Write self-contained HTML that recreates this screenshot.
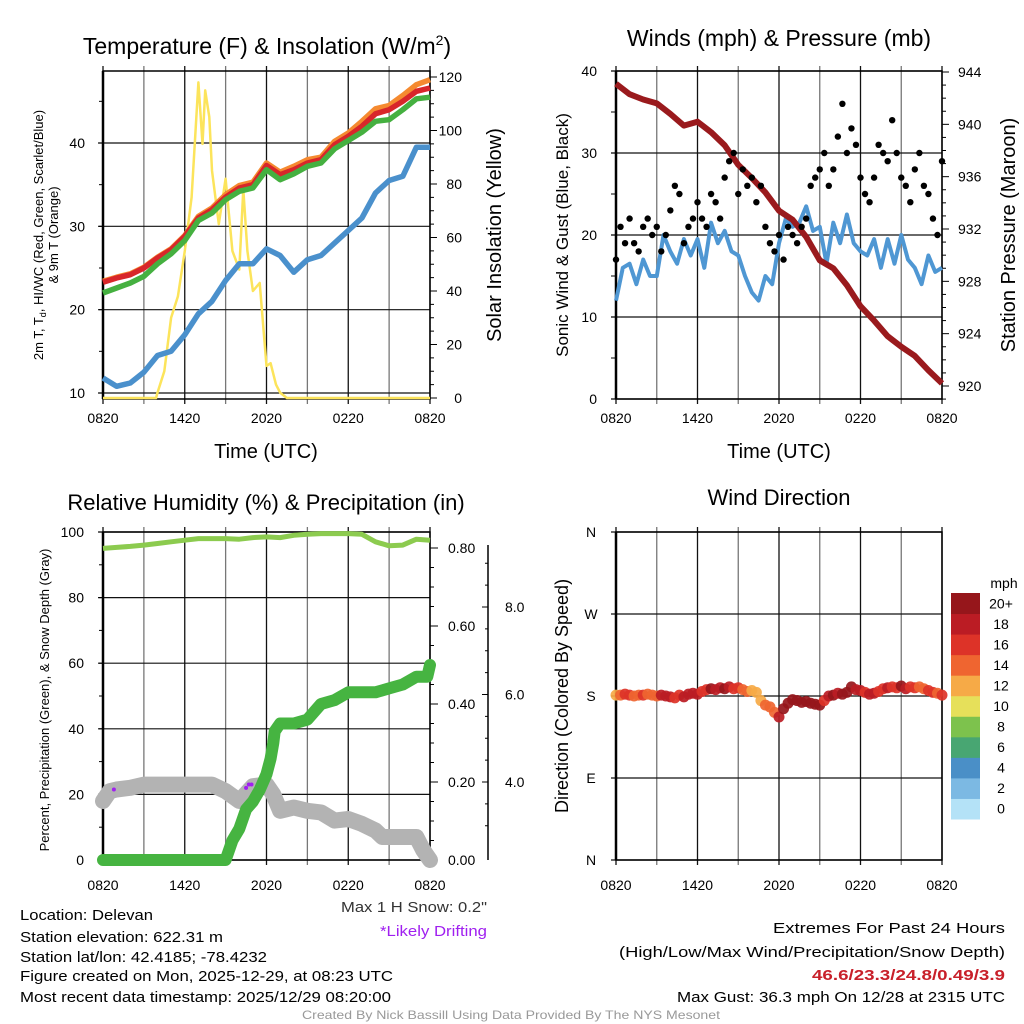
<!DOCTYPE html>
<html><head><meta charset="utf-8"><style>
html,body{margin:0;padding:0;background:#fff;}
svg{display:block;font-family:"Liberation Sans",sans-serif;}
</style></head><body>
<svg id="fig" width="1024" height="1024" viewBox="0 0 1024 1024" xmlns="http://www.w3.org/2000/svg"></svg>
<script>
// ---------- DATA ----------
const hourIdx=[0,1,2,3,4,5,6,7,8,9,10,11,12,13,14,15,16,17,18,19,20,21,22,23,24];
const xTickLabels=["0820","1420","2020","0220","0820"];
const tempRed=[23.3,23.8,24.2,25.0,26.2,27.2,28.8,31.0,32.0,33.5,34.6,35.0,37.3,36.2,36.8,37.6,38.0,39.8,40.8,42.0,43.5,44.0,45.0,46.2,46.6];
const tempOrange=[23.4,23.9,24.3,25.1,26.3,27.3,28.9,31.2,32.2,33.8,34.9,35.3,37.6,36.5,37.2,38.0,38.3,40.2,41.2,42.6,44.1,44.5,45.7,47.0,47.6];
const dewGreen=[22.0,22.6,23.2,24.0,25.5,26.7,28.3,30.7,31.6,33.2,34.2,34.6,36.8,35.6,36.3,37.2,37.6,39.3,40.3,41.3,42.6,42.8,44.0,45.3,45.5];
const dewBlue=[11.8,10.8,11.2,12.5,14.5,15.0,17.0,19.5,21.0,23.5,25.5,25.5,27.3,26.5,24.5,26.0,26.5,28.0,29.5,31.0,34.0,35.5,36.0,39.5,39.5];
const solarHours=[0,3.9,4,4.5,5,5.5,6,6.5,7,7.3,7.5,7.8,8,8.5,9,9.5,10,10.3,10.6,11,11.5,12,12.3,12.7,13,13.5,24];
const solarValues=[0,0,2,10,30,38,55,75,118,95,115,105,85,65,82,55,48,78,55,40,43,12,13,5,2,0,0];
const windHours=[0,0.5,1,1.5,2,2.5,3,3.5,4,4.5,5,5.5,6,6.5,7,7.5,8,8.5,9,9.5,10,10.5,11,11.5,12,12.5,13,13.5,14,14.5,15,15.5,16,16.5,17,17.5,18,18.5,19,19.5,20,20.5,21,21.5,22,22.5,23,23.5,24];
const windSpeed=[12,16,16.5,14,17,15,15,20,18,16.5,19.5,17.5,19.5,16,21.5,19,20.5,18,17.5,15,13,12,15,14,19,22,21,21.5,23.5,20.5,21,16.5,21.5,19,22.5,19,18,17.5,19.5,16,19.5,16.5,20,17,16,14,17.5,15.5,16];
const gustValues=[17,21,19,22,19,18,21,22,20,21,18,20,23,26,25,19,21,22,24,22,21,25,24,22,27,29,30,25,28,26,27,24,26,21,19,18,20,17,21,20,19,21,22,26,27,28,30,26,28,32,36,30,33,31,27,25,24,27,31,30,29,34,30,27,26,24,28,30,26,25,22,20,29];
const pressure=[943.1,942.3,941.9,941.6,940.8,939.9,940.2,939.4,938.4,936.9,935.9,934.8,933.4,932.7,931.4,929.6,929.0,927.7,926.1,925.0,923.8,923.0,922.3,921.2,920.2];
const rh=[95,95.3,95.6,96,96.5,97,97.5,98,98,98,97.8,98.3,98.5,98.3,99,99.3,99.5,99.5,99.5,99.3,97,95.8,96,97.8,97.5];
const precipHours=[0,9,9.5,10,10.5,11,11.5,12,12.3,12.5,12.6,13,14,15,16,17,18,20,21,22,23,23.8,24];
const precipValues=[0,0,0.05,0.08,0.13,0.15,0.18,0.22,0.26,0.30,0.33,0.35,0.35,0.36,0.40,0.41,0.43,0.43,0.44,0.45,0.47,0.47,0.50];
const snowHours=[0,0.5,1,2,3,4,6,8,9,10,11,12,12.5,13,14,15,16,17,18,19,20,20.5,22,23,23.5,24];
const snowValues=[18,21,21.5,22,23,23,23,23,21,18,22.5,23,20,15,16,15,14.5,12,12.5,11,9,7,7,7,3,0];
const driftHours=[0.8,10.5,10.7,10.9];
const driftValues=[21.5,22,23,23];
const dirValues=[181,181,182,181,180,181,181,182,181,180,181,180,179,178,181,179,182,183,182,185,187,188,187,189,188,190,188,189,187,185,186,184,175,170,168,162,157,166,172,176,175,173,174,172,171,170,175,180,181,183,182,184,190,187,186,184,182,183,185,188,189,190,189,191,188,190,189,190,188,186,184,183,181];
const speedBins=[0,2,4,6,8,10,12,14,16,18,20];
const legendLabels=["0","2","4","6","8","10","12","14","16","18","20+"];
const binColors=["#b4e2f7","#7cb9e3","#4a8fc7","#48a672","#7dc24d","#e6e05a","#f6aa47","#ef6530","#dd3328","#bb1c24","#96161b"];

// ---------- HELPERS ----------
const NS="http://www.w3.org/2000/svg";
const svg=document.getElementById("fig");
function mk(tag,attrs,parent){const e=document.createElementNS(NS,tag);for(const k in attrs)e.setAttribute(k,attrs[k]);(parent||svg).appendChild(e);return e;}
function txt(s,attrs,parent){const e=mk("text",attrs,parent);e.textContent=s;return e;}
function lin(d0,d1,r0,r1){return v=>r0+(v-d0)*(r1-r0)/(d1-d0);}
function pathD(xs,ys,fx,fy){return xs.map((x,i)=>(i?"L":"M")+fx(x).toFixed(1)+","+fy(ys[i]).toFixed(1)).join("");}
function interp(xs,ys,x){for(let i=1;i<xs.length;i++){if(x<=xs[i]){const t=(x-xs[i-1])/(xs[i]-xs[i-1]);return ys[i-1]+t*(ys[i]-ys[i-1]);}}return ys[ys.length-1];}

function frame(g,L,R,T,B,xs,yGrid){
  for(let h=0;h<=24;h+=3){const x=xs(h);
    const l=mk("line",{x1:x,y1:T-5,x2:x,y2:B+5,stroke:h%6===3?"#777":"#111","stroke-width":1.3},g);
    
    }
  yGrid.forEach(y=>{const l=mk("line",{x1:L-5,y1:y,x2:R,y2:y,stroke:"#111","stroke-width":1.2},g);
    
    });
  const b=mk("rect",{x:L,y:T,width:R-L,height:B-T,fill:"none",stroke:"#000","stroke-width":1.5},g);
  
  
  mk("line",{x1:L,y1:T,x2:L,y2:B,stroke:"#000","stroke-width":2.5},g);
}
function xLabels(g,xs,y){xTickLabels.forEach((s,i)=>{const t=txt(s,{x:xs(i*6),y:y,"font-size":14,"text-anchor":"middle"},g);
  
  });}
function group(name){const g=mk("g",{});return g;}

// ---------- PANEL 1: Temperature ----------
(function(){
  const g=group("temperature-panel");
  const L=103,R=430,T=71,B=399;
  const xs=lin(0,24,L,R), ys=lin(10,40,393,143), ysol=lin(0,120,398,77);
  frame(g,L,R,T,B,xs,[10,20,30,40].map(ys));
  for(let v=10;v<=45;v+=5){mk("line",{x1:L-4,y1:ys(v),x2:L,y2:ys(v),stroke:"#000"},g);}
  [10,20,30,40].forEach(v=>{const t=txt(v,{x:85,y:ys(v)+5,"font-size":14,"text-anchor":"end"},g);});
  for(let v=0;v<=120;v+=5){mk("line",{x1:R,y1:ysol(v),x2:R+(v%20?4:7),y2:ysol(v),stroke:"#000"},g);}
  for(let v=0;v<=120;v+=20){const t=txt(v,{x:462,y:ysol(v)+5,"font-size":14,"text-anchor":"end"},g);}
  const s1=mk("path",{d:pathD(solarHours,solarValues,xs,ysol),fill:"none",stroke:"#fce45b","stroke-width":2.5,"stroke-linejoin":"round"},g);
  
  const s2=mk("path",{d:pathD(hourIdx,dewBlue,xs,ys),fill:"none",stroke:"#4a90cc","stroke-width":5.5,"stroke-linejoin":"round"},g);
  
  const s3=mk("path",{d:pathD(hourIdx,tempOrange,xs,ys),fill:"none",stroke:"#f58a30","stroke-width":5.5,"stroke-linejoin":"round"},g);
  
  const s4=mk("path",{d:pathD(hourIdx,tempRed,xs,ys),fill:"none",stroke:"#d8262a","stroke-width":5.5,"stroke-linejoin":"round"},g);
  
  const s5=mk("path",{d:pathD(hourIdx,dewGreen,xs,ys),fill:"none",stroke:"#45b040","stroke-width":5.5,"stroke-linejoin":"round"},g);
  
  xLabels(g,xs,423);
  const t1=txt("Time (UTC)",{x:266,y:458,"font-size":20,"text-anchor":"middle"},g);
  const ti=mk("text",{x:267,y:54,"font-size":23,"text-anchor":"middle"},g);
  ti.innerHTML='Temperature (F) &amp; Insolation (W/m<tspan dy="-9" font-size="14">2</tspan><tspan dy="9">)</tspan>';
  
  const y1=mk("text",{transform:"translate(43,235) rotate(-90)","font-size":13,"text-anchor":"middle"},g);
  y1.innerHTML='2m T, T<tspan dy="3" font-size="9">d</tspan><tspan dy="-3">, HI/WC (Red, Green, Scarlet/Blue)</tspan>';
  
  const y2=txt("& 9m T (Orange)",{transform:"translate(58,235) rotate(-90)","font-size":13,"text-anchor":"middle"},g);
  const y3=txt("Solar Insolation (Yellow)",{transform:"translate(501,235) rotate(-90)","font-size":20,"text-anchor":"middle"},g);
})();

// ---------- PANEL 2: Winds ----------
(function(){
  const g=group("winds-panel");
  const L=616,R=942,T=71,B=399;
  const xs=lin(0,24,L,R), ys=lin(0,40,399,71), yp=lin(920,944,386,72);
  frame(g,L,R,T,B,xs,[0,10,20,30,40].map(ys));
  for(let v=0;v<=40;v+=5){mk("line",{x1:L-5,y1:ys(v),x2:L,y2:ys(v),stroke:"#000"},g);}
  [0,10,20,30,40].forEach(v=>{const t=txt(v,{x:597,y:ys(v)+5,"font-size":14,"text-anchor":"end"},g);});
  for(let v=919;v<=944;v+=1){mk("line",{x1:R,y1:yp(v),x2:R+(v%4?4:7),y2:yp(v),stroke:"#000"},g);}
  for(let v=920;v<=944;v+=4){const t=txt(v,{x:958,y:yp(v)+5,"font-size":14},g);}
  const w=mk("path",{d:pathD(windHours,windSpeed,xs,ys),fill:"none",stroke:"#4f97d3","stroke-width":4,"stroke-linejoin":"round"},g);
  
  const pr=mk("path",{d:pathD(hourIdx,pressure,xs,yp),fill:"none",stroke:"#9a1a1d","stroke-width":6,"stroke-linejoin":"round"},g);
  
  gustValues.forEach((v,i)=>{const h=i/3;
    const c=mk("circle",{cx:xs(h),cy:ys(v),r:3.2,fill:"#000"},g);
    
    });
  xLabels(g,xs,423);
  const t1=txt("Time (UTC)",{x:779,y:458,"font-size":20,"text-anchor":"middle"},g);
  const ti=txt("Winds (mph) & Pressure (mb)",{x:779,y:46,"font-size":23,"text-anchor":"middle"},g);
  const y1=txt("Sonic Wind & Gust (Blue, Black)",{transform:"translate(568,235) rotate(-90)","font-size":17,"text-anchor":"middle"},g);
  const y2=txt("Station Pressure (Maroon)",{transform:"translate(1015,235) rotate(-90)","font-size":20,"text-anchor":"middle"},g);
})();

// ---------- PANEL 3: RH & Precip ----------
(function(){
  const g=group("humidity-precip-panel");
  const L=103,R=430,T=532,B=860;
  const xs=lin(0,24,L,R), ys=lin(0,100,860,532), ypr=lin(0,0.8,860,548), ysn=lin(4,8,782,607);
  frame(g,L,R,T,B,xs,[0,20,40,60,80,100].map(ys));
  for(let v=0;v<=100;v+=10){mk("line",{x1:L-4,y1:ys(v),x2:L,y2:ys(v),stroke:"#000"},g);}
  [0,20,40,60,80,100].forEach(v=>{const t=txt(v,{x:84,y:ys(v)+5,"font-size":14,"text-anchor":"end"},g);});
  for(let i=0;i<=16;i++){const v=i*0.05;mk("line",{x1:R,y1:ypr(v),x2:R+(i%4?4:8),y2:ypr(v),stroke:"#000"},g);}
  for(let i=0;i<=4;i++){const v=i*0.2;const t=txt(v.toFixed(2),{x:448,y:ypr(v)+5,"font-size":14},g);}
  mk("line",{x1:488,y1:545,x2:488,y2:860,stroke:"#000","stroke-width":1.5},g);
  for(let v=3.0;v<=9.0;v+=0.5){const y=ysn(v);if(y<545||y>860)continue;mk("line",{x1:488,y1:y,x2:488-(v%2?3:6),y2:y,stroke:"#000"},g);}
  [4,6,8].forEach(v=>{const t=txt(v.toFixed(1),{x:505,y:ysn(v)+5,"font-size":14},g);});
  const sn=mk("path",{d:pathD(snowHours,snowValues,xs,ys),fill:"none",stroke:"#b3b3b3","stroke-width":16,"stroke-linejoin":"round","stroke-linecap":"round"},g);
  
  driftHours.forEach((h,i)=>{const c=mk("circle",{cx:xs(h),cy:ys(driftValues[i]),r:2,fill:"#a020f0"},g);
    
    });
  const pp=mk("path",{d:pathD(precipHours,precipValues,xs,ypr),fill:"none",stroke:"#46b441","stroke-width":12,"stroke-linejoin":"round","stroke-linecap":"round"},g);
  
  const rl=mk("path",{d:pathD(hourIdx,rh,xs,ys),fill:"none",stroke:"#8ccb4f","stroke-width":5,"stroke-linejoin":"round"},g);
  
  xLabels(g,xs,890);
  const ti=txt("Relative Humidity (%) & Precipitation (in)",{x:266,y:510,"font-size":22,"text-anchor":"middle"},g);
  const y1=txt("Percent, Precipitation (Green), & Snow Depth (Gray)",{transform:"translate(49,700) rotate(-90)","font-size":13,"text-anchor":"middle"},g);
})();

// ---------- PANEL 4: Wind direction ----------
(function(){
  const g=group("wind-direction-panel");
  const L=616,R=942,T=532,B=860;
  const xs=lin(0,24,L,R), yd=lin(0,360,860,532);
  frame(g,L,R,T,B,xs,[0,90,180,270,360].map(yd));
  ["N","E","S","W","N"].forEach((s,i)=>{const t=txt(s,{x:591,y:yd(i*90)+5,"font-size":14,"text-anchor":"middle"},g);});
  dirValues.forEach((d,i)=>{const h=i/3;const sp=interp(windHours,windSpeed,h);
    let b=0;for(let k=0;k<speedBins.length;k++){if(sp>=speedBins[k])b=k;}
    const c=mk("circle",{cx:xs(h),cy:yd(d),r:5.5,fill:binColors[b],"fill-opacity":0.92},g);
    
    });
  xLabels(g,xs,890);
  const ti=txt("Wind Direction",{x:779,y:505,"font-size":22,"text-anchor":"middle"},g);
  const y1=txt("Direction (Colored By Speed)",{transform:"translate(568,696) rotate(-90)","font-size":18,"text-anchor":"middle"},g);
  const lg=group("speed-legend");
  const un=txt("mph",{x:1004,y:588,"font-size":14,"text-anchor":"middle"},lg);
  const bh=(819-593)/11;
  legendLabels.forEach((s,i)=>{const y=819-(i+1)*bh;
    const r=mk("rect",{x:951,y:y,width:29,height:bh+0.5,fill:binColors[i]},lg);
    
    
    const t=txt(s,{x:1001,y:y+bh/2+5,"font-size":14,"text-anchor":"middle"},lg);
    
    });
})();

// ---------- FOOTER ----------
(function(){
  const g=group("footer-info");
  const rows=[["Location: Delevan",20,920,133,"start","#000"],
  ["Station elevation: 622.31 m",20,942,203,"start","#000"],
  ["Station lat/lon: 42.4185; -78.4232",20,962,247,"start","#000"],
  ["Figure created on Mon, 2025-12-29, at 08:23 UTC",20,981,373,"start","#000"],
  ["Most recent data timestamp: 2025/12/29 08:20:00",20,1002,371,"start","#000"],
  ["Max 1 H Snow: 0.2\"",341,912,146,"start","#333"],
  ["*Likely Drifting",380,936,107,"start","#a020f0"],
  ["Extremes For Past 24 Hours",773,933,232,"start","#000"],
  ["(High/Low/Max Wind/Precipitation/Snow Depth)",619,957,386,"start","#000"],
  ["Max Gust: 36.3 mph On 12/28 at 2315 UTC",677,1002,328,"start","#000"]];
  rows.forEach(r=>{const t=txt(r[0],{x:r[1],y:r[2],"font-size":15,textLength:r[3],lengthAdjust:"spacingAndGlyphs",fill:r[5]},g);
    
    });
  const e=txt("46.6/23.3/24.8/0.49/3.9",{x:812,y:980,"font-size":15,"font-weight":"bold",textLength:193,lengthAdjust:"spacingAndGlyphs",fill:"#c8202a"},g);
  
  const c=txt("Created By Nick Bassill Using Data Provided By The NYS Mesonet",{x:302,y:1019,"font-size":12,textLength:418,lengthAdjust:"spacingAndGlyphs",fill:"#999"},g);
  
})();
</script>
</body></html>
